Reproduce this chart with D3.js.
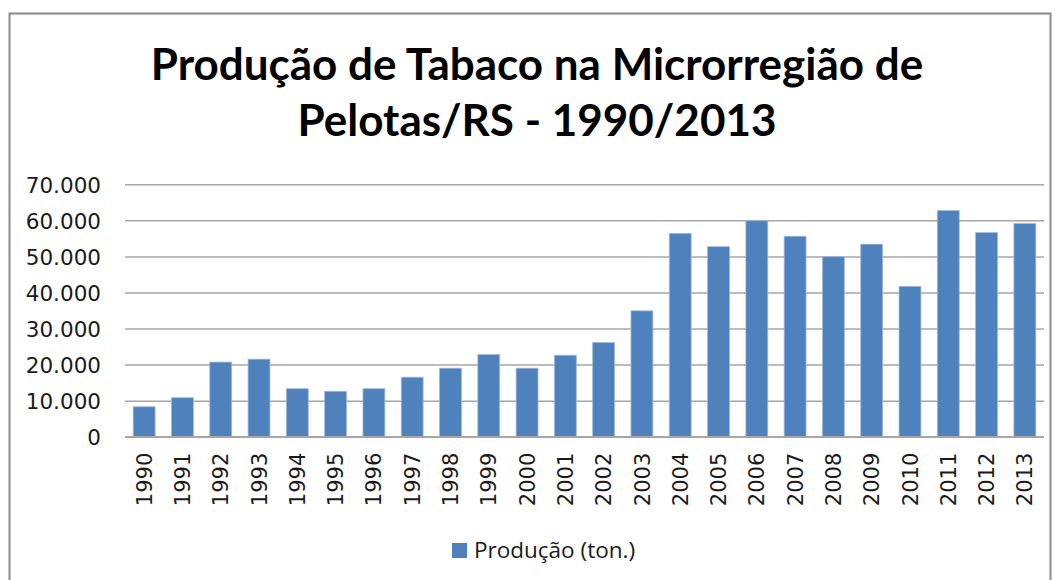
<html>
<head>
  <meta charset="utf-8">
  <title>Producao de Tabaco</title>
  <script src="https://d3js.org/d3.v7.min.js"></script>
  <style>
    body { margin: 0; background: white; }
    .grid line { stroke: #a6a6a6; stroke-width: 1.5; }
    .axis path, .axis line { display: none; }
    .axis text { font-family: 'DejaVu Sans', sans-serif; font-size: 21px; fill: #1a1a1a; }
  </style>
</head>
<body>
<script>

// data
var years = ['1990','1991','1992','1993','1994','1995','1996','1997','1998','1999','2000','2001',
             '2002','2003','2004','2005','2006','2007','2008','2009','2010','2011','2012','2013'];
var producao = [8300, 10800, 20700, 21500, 13300, 12600, 13300, 16500, 19000, 22800, 19000, 22600,
                26100, 34900, 56400, 52700, 59900, 55600, 49900, 53400, 41700, 62700, 56600, 59100];
var yTicks = [0, 10000, 20000, 30000, 40000, 50000, 60000, 70000];
var titleLines = ['Produção de Tabaco na Microrregião de', 'Pelotas/RS - 1990/2013'];
var legendLabel = 'Produção (ton.)';

var data = years.map(function(y, i) { return {key: y, value: producao[i]}; });

var W = 1061, H = 580;
var plot = {left: 125, right: 1044, top: 184.3, bottom: 436.7};

var ptBR = d3.formatLocale({decimal: ',', thousands: '.', grouping: [3], currency: ['R$', '']});
var fmt = ptBR.format(',');

var svg = d3.select('body').append('svg')
    .attr('width', W)
    .attr('height', H);

// outer frame
svg.append('rect')
    .attr('x', 9.5).attr('y', 13.5)
    .attr('width', 1041).attr('height', 620)
    .attr('fill', 'white')
    .attr('stroke', '#8a8a8a')
    .attr('stroke-width', 2);

// title
svg.selectAll('.title')
    .data(titleLines)
    .enter()
    .append('text')
    .attr('class', 'title')
    .attr('x', 537)
    .attr('y', function(d, i) { return 80 + i * 56; })
    .attr('text-anchor', 'middle')
    .style('font-family', 'Lato, sans-serif')
    .style('font-weight', 'bold')
    .style('font-size', '44px')
    .attr('fill', '#000')
    .text(function(d) { return d; });

var xScale = d3.scaleBand()
    .domain(years)
    .range([plot.left, plot.right])
    .paddingInner(0.4286)
    .paddingOuter(0.2143);

var yScale = d3.scaleLinear()
    .domain([0, 70000])
    .range([plot.bottom, plot.top]);

// gridlines
svg.append('g')
    .attr('class', 'grid')
    .attr('transform', 'translate(' + plot.left + ',0)')
    .call(d3.axisLeft(yScale).tickValues(yTicks).tickSize(-(plot.right - plot.left)).tickFormat(''))
    .call(function(g) { g.select('.domain').remove(); });

// y axis labels
svg.append('g')
    .attr('class', 'axis')
    .attr('transform', 'translate(' + (plot.left - 16) + ',0)')
    .call(d3.axisLeft(yScale).tickValues(yTicks).tickSize(0).tickPadding(8).tickFormat(fmt))
    .selectAll('text')
    .style('font-size', '21.5px')
    .attr('dy', '0.36em');

// bars
svg.selectAll('.bar')
    .data(data)
    .enter()
    .append('rect')
    .attr('class', 'bar')
    .attr('x', function(d) { return xScale(d.key); })
    .attr('y', function(d) { return yScale(d.value); })
    .attr('width', xScale.bandwidth())
    .attr('height', function(d) { return yScale(0) - yScale(d.value); })
    .attr('fill', '#4f81bd')
    .attr('stroke', '#9fb9dc')
    .attr('stroke-width', 0.8);

// baseline
svg.append('line')
    .attr('x1', plot.left).attr('x2', plot.right)
    .attr('y1', yScale(0)).attr('y2', yScale(0))
    .attr('stroke', '#a6a6a6')
    .attr('stroke-width', 1.5);

// x axis, rotated year labels
svg.append('g')
    .attr('class', 'axis')
    .attr('transform', 'translate(0,' + yScale(0) + ')')
    .call(d3.axisBottom(xScale).tickSize(0))
    .selectAll('text')
    .attr('transform', 'rotate(-90)')
    .attr('text-anchor', 'end')
    .attr('x', -16)
    .attr('y', 0)
    .attr('dy', '0.36em');

// legend
var legend = svg.append('g').attr('transform', 'translate(452,543)');
legend.append('rect')
    .attr('width', 15).attr('height', 15)
    .attr('fill', '#4f81bd');
legend.append('text')
    .attr('x', 22)
    .attr('y', 15)
    .style('font-family', "'Open Sans', sans-serif")
    .style('font-size', '22.5px')
    .attr('fill', '#1a1a1a')
    .text(legendLabel);

</script>
</body>
</html>
